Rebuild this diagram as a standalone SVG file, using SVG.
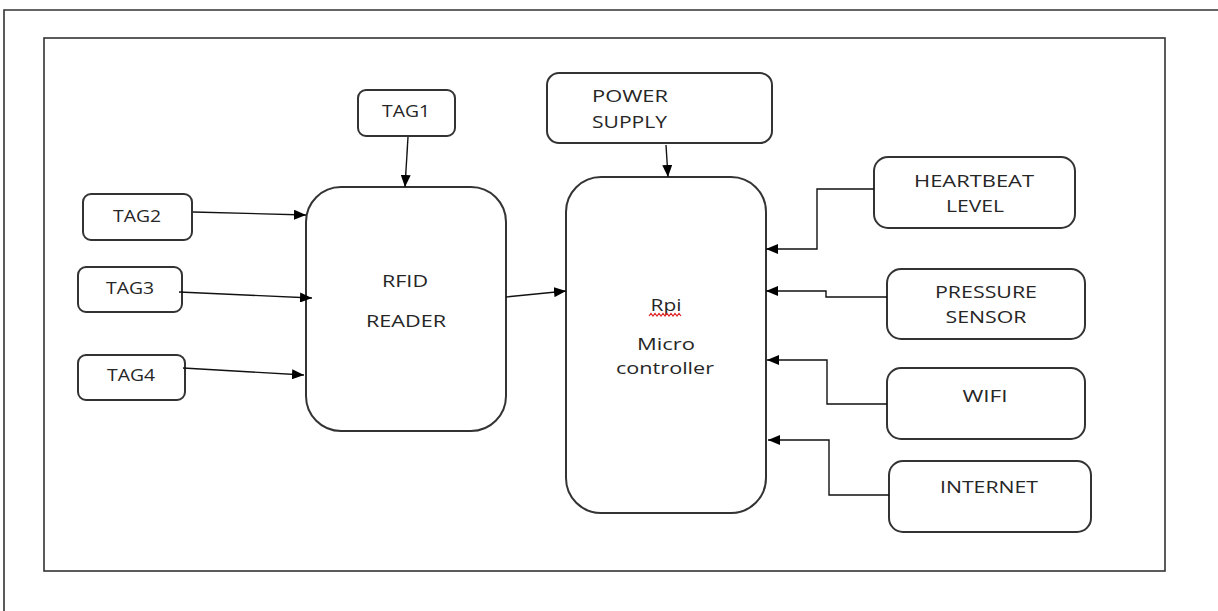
<svg xmlns="http://www.w3.org/2000/svg" width="1218" height="611" viewBox="0 0 1218 611">
<style>
.box{fill:#fff;stroke:#333;stroke-width:2}
.frame{fill:none;stroke:#333;stroke-width:1.6}
.c{fill:none;stroke:#111;stroke-width:1.4;marker-end:url(#ah)}
text{font-family:"Open Sans","Liberation Sans",sans-serif;font-size:17px;fill:#262626;font-weight:500}
.m{text-anchor:middle}
</style>
<defs>
<marker id="ah" markerUnits="userSpaceOnUse" markerWidth="13" markerHeight="10" refX="12" refY="5" orient="auto">
<path d="M0,0 L12,5 L0,10 Z" fill="#000"/>
</marker>
</defs>
<rect width="1218" height="611" fill="#fff"/>
<path class="frame" d="M4,611 V10 H1218" stroke-width="2"/>
<rect class="frame" x="44" y="38" width="1121" height="533"/>

<g id="tag1"><rect class="box" x="358" y="90" width="97" height="46" rx="8"/><text class="m" x="406" y="117" textLength="48" lengthAdjust="spacingAndGlyphs">TAG1</text></g>
<g id="tag2"><rect class="box" x="83" y="194" width="109" height="46" rx="8"/><text class="m" x="137" y="222" textLength="48" lengthAdjust="spacingAndGlyphs">TAG2</text></g>
<g id="tag3"><rect class="box" x="78" y="267" width="104" height="45" rx="8"/><text class="m" x="130" y="294" textLength="48" lengthAdjust="spacingAndGlyphs">TAG3</text></g>
<g id="tag4"><rect class="box" x="78" y="355" width="107" height="45" rx="8"/><text class="m" x="131" y="381" textLength="48" lengthAdjust="spacingAndGlyphs">TAG4</text></g>
<g id="rfid"><rect class="box" x="306" y="187" width="200" height="244" rx="35"/><text class="m" x="405" y="287" textLength="46" lengthAdjust="spacingAndGlyphs">RFID</text><text class="m" x="406" y="327" textLength="80" lengthAdjust="spacingAndGlyphs">READER</text></g>
<g id="power"><rect class="box" x="547" y="73" width="225" height="70" rx="12"/><text x="592" y="102" textLength="76" lengthAdjust="spacingAndGlyphs">POWER</text><text x="592" y="128" textLength="75" lengthAdjust="spacingAndGlyphs">SUPPLY</text></g>
<g id="rpi"><rect class="box" x="566" y="177" width="200" height="336" rx="35"/><text class="m" x="666" y="311" textLength="31" lengthAdjust="spacingAndGlyphs">Rpi</text><path d="M649,316 l2,-2.5 l2,2.5 l2,-2.5 l2,2.5 l2,-2.5 l2,2.5 l2,-2.5 l2,2.5 l2,-2.5 l2,2.5 l2,-2.5 l2,2.5 l2,-2.5 l2,2.5 l2,-2.5 l2,2.5" fill="none" stroke="#e02020" stroke-width="1.2"/><text class="m" x="666" y="350" textLength="58" lengthAdjust="spacingAndGlyphs">Micro</text><text class="m" x="665" y="374" textLength="98" lengthAdjust="spacingAndGlyphs">controller</text></g>
<g id="heartbeat"><rect class="box" x="874" y="157" width="201" height="71" rx="14"/><text class="m" x="974" y="187" textLength="120" lengthAdjust="spacingAndGlyphs">HEARTBEAT</text><text class="m" x="975" y="212" textLength="58" lengthAdjust="spacingAndGlyphs">LEVEL</text></g>
<g id="pressure"><rect class="box" x="887" y="269" width="198" height="70" rx="14"/><text class="m" x="986" y="298" textLength="102" lengthAdjust="spacingAndGlyphs">PRESSURE</text><text class="m" x="986" y="323" textLength="81" lengthAdjust="spacingAndGlyphs">SENSOR</text></g>
<g id="wifi"><rect class="box" x="887" y="368" width="198" height="71" rx="14"/><text class="m" x="985" y="402" textLength="45" lengthAdjust="spacingAndGlyphs">WIFI</text></g>
<g id="internet"><rect class="box" x="889" y="461" width="202" height="71" rx="14"/><text class="m" x="989" y="493" textLength="98" lengthAdjust="spacingAndGlyphs">INTERNET</text></g>

<g id="connectors">
<path class="c" d="M408,137 L405,187"/>
<path class="c" d="M193,212 L306,215"/>
<path class="c" d="M179,292 L312,298"/>
<path class="c" d="M183,368 L304,375"/>
<path class="c" d="M506,297 L566,291"/>
<path class="c" d="M666,145 L668,177"/>
<path class="c" d="M874,189 H817 V249 H766"/>
<path class="c" d="M887,297 H826 V291 H766"/>
<path class="c" d="M887,404 H827 V360 H767"/>
<path class="c" d="M889,495 H829 V440 H768"/>
</g>
</svg>
